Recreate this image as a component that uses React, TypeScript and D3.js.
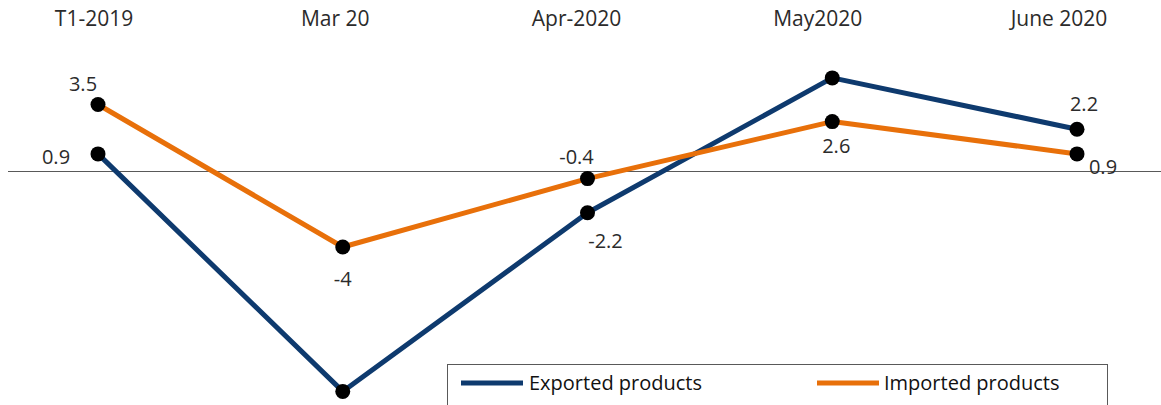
import React from "react";
import * as d3 from "d3";

const categories = ["T1-2019", "Mar 20", "Apr-2020", "May2020", "June 2020"];
const exported = [0.9, -11.6, -2.2, 4.9, 2.2];
const imported = [3.5, -4, -0.4, 2.6, 0.9];
const exportedLabels = ["0.9", "", "-2.2", "", "2.2"];
const importedLabels = ["3.5", "-4", "-0.4", "2.6", "0.9"];
const seriesNames = ["Exported products", "Imported products"];

const W = 1161;
const H = 405;
const BLUE = "#0E3A6E";
const ORANGE = "#E8700A";
const TEXT = "#2b2b2b";
const FONT = "'Open Sans', 'Noto Sans', sans-serif";

// label offsets (dx, dy) relative to each point
const exportedOffsets: [number, number][] = [[-42, 3], [0, 0], [18, 28], [0, 0], [7, -25]];
const importedOffsets: [number, number][] = [[-15, -21], [0, 32], [-11, -22], [4, 24], [26, 13]];

export default function App() {
  const idx = categories.map((_, i) => i);
  const x = d3.scaleLinear().domain([0, categories.length - 1]).range([98, 1077]);
  const xLab = d3.scaleLinear().domain([0, categories.length - 1]).range([94, 1059]);
  const y = d3.scaleLinear().domain([-12, 6]).range([399, 57]);
  const line = d3
    .line<number>()
    .x((_, i) => x(i))
    .y((d) => y(d));

  const series = [
    { values: exported, labels: exportedLabels, offsets: exportedOffsets, color: BLUE },
    { values: imported, labels: importedLabels, offsets: importedOffsets, color: ORANGE },
  ];

  return (
    <svg
      width={W}
      height={H}
      style={{ position: "absolute", left: 0, top: 0, background: "#fff" }}
      fontFamily={FONT}
    >
      <rect x={0} y={0} width={W} height={H} fill="#fff" />
      {idx.map((i) => (
        <text
          key={"c" + i}
          x={xLab(i)}
          y={26}
          textAnchor="middle"
          fontSize={21}
          fill={TEXT}
        >
          {categories[i]}
        </text>
      ))}
      <line x1={8} x2={W} y1={y(0) + 0.5} y2={y(0) + 0.5} stroke="#595959" strokeWidth={1} />
      {series.map((s, si) => (
        <path
          key={"l" + si}
          d={line(s.values) || ""}
          fill="none"
          stroke={s.color}
          strokeWidth={5}
          strokeLinejoin="round"
        />
      ))}
      {series.map((s, si) =>
        s.values.map((v, i) => (
          <circle key={"m" + si + "-" + i} cx={x(i)} cy={y(v)} r={7.5} fill="#000" />
        ))
      )}
      {series.map((s, si) =>
        s.values.map((v, i) =>
          s.labels[i] ? (
            <text
              key={"t" + si + "-" + i}
              x={x(i) + s.offsets[i][0]}
              y={y(v) + s.offsets[i][1]}
              dy="0.35em"
              textAnchor="middle"
              fontSize={20}
              fill={TEXT}
            >
              {s.labels[i]}
            </text>
          ) : null
        )
      )}
      <rect x={447.5} y={364.5} width={660} height={60} fill="#fff" stroke="#595959" strokeWidth={1} />
      <line x1={461} x2={523} y1={383} y2={383} stroke={BLUE} strokeWidth={5} />
      <text x={529} y={383} dy="0.35em" fontSize={20} fill="#111">
        {seriesNames[0]}
      </text>
      <line x1={817} x2={879} y1={383} y2={383} stroke={ORANGE} strokeWidth={5} />
      <text x={884} y={383} dy="0.35em" fontSize={20} fill="#111">
        {seriesNames[1]}
      </text>
    </svg>
  );
}
